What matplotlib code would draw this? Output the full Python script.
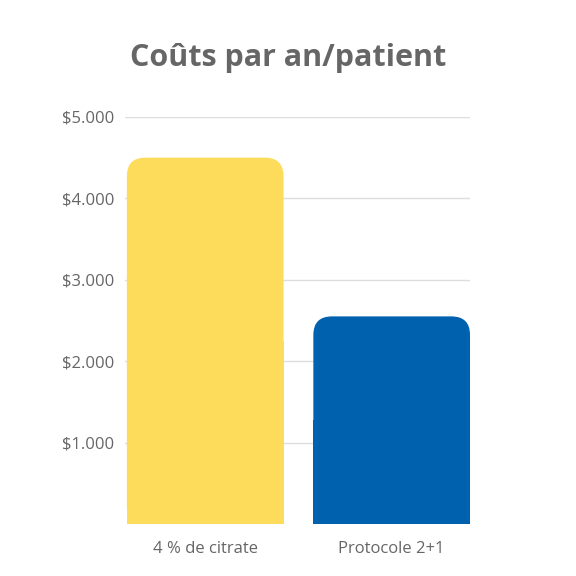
import matplotlib.pyplot as plt
from matplotlib.patches import FancyBboxPatch, Rectangle

categories = ["4 % de citrate", "Protocole 2+1"]
values = [4500, 2550]
colors = ["#FDDC5C", "#0061AE"]
yticks = [1000, 2000, 3000, 4000, 5000]
ylabels = ["$1.000", "$2.000", "$3.000", "$4.000", "$5.000"]

plt.rcParams['font.family'] = ['Open Sans', 'DejaVu Sans']

fig = plt.figure(figsize=(5.76, 5.76), dpi=100)
ax = fig.add_axes([0.217, 0.0903, 0.599, 0.7067])

width = 0.84
r = 0.1
aspect = 2280  # y units per x unit, so corners look round
for i, (v, c) in enumerate(zip(values, colors)):
    x0 = i - width / 2
    ax.add_patch(FancyBboxPatch((x0, 0), width, v,
                                boxstyle=f"round,pad=0,rounding_size={r}",
                                mutation_aspect=aspect, fc=c, ec="none", zorder=3))
    ax.add_patch(Rectangle((x0, 0), width, v / 2, fc=c, ec="none", zorder=3))

ax.set_xlim(-0.43, 1.42)
ax.set_ylim(0, 5000)
ax.set_xticks(range(len(categories)))
ax.set_xticklabels(categories)
ax.set_yticks(yticks)
ax.set_yticklabels(ylabels)
ax.tick_params(length=0, labelsize=12, labelcolor="#666666", pad=8)
ax.tick_params(axis="x", pad=12)
ax.grid(axis="y", color="#dddddd", linewidth=1, zorder=0)
for s in ax.spines.values():
    s.set_visible(False)

fig.text(0.5, 0.9, "Coûts par an/patient", ha="center", va="center",
         fontsize=22, fontweight="bold", color="#666666")

fig.savefig("out.png", dpi=100)
